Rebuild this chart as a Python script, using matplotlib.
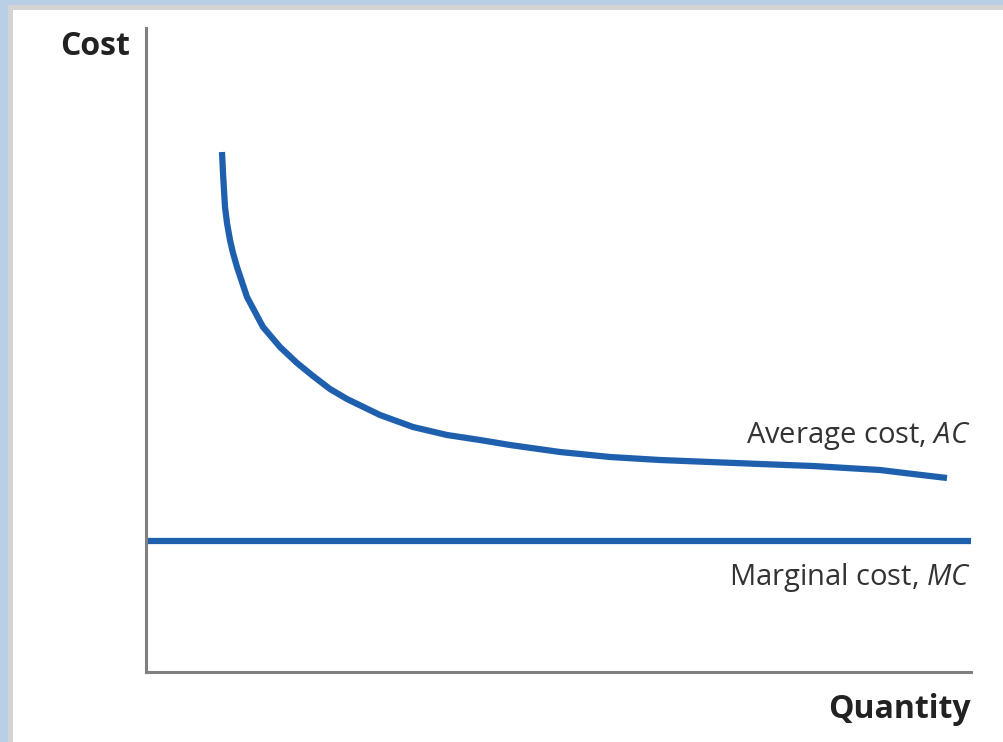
import matplotlib
matplotlib.use("Agg")
import matplotlib.pyplot as plt
from matplotlib import font_manager
from matplotlib.patches import Rectangle

# Data (quantity, cost) in arbitrary units
ac_quantity = [76, 77, 78, 79, 81, 84, 87, 91, 96, 101, 109, 117, 134, 151, 167,
               184, 201, 234, 267, 301, 334, 364, 414, 464, 514, 564, 614, 667,
               734, 767, 801]
ac_cost = [520, 499, 482, 465, 449, 432, 419, 405, 390, 375, 360, 345, 325, 309,
           296, 283, 273, 257, 245, 237, 232, 227, 220, 215, 212, 210, 208, 206,
           202, 198, 194]
mc_quantity = [0, 825]
mc_cost = [131, 131]

x_max = 825
y_max = 644

names = {f.name for f in font_manager.fontManager.ttflist}
fam = 'Liberation Sans Narrow' if 'Liberation Sans Narrow' in names else 'Open Sans'

plt.rcParams['font.family'] = [fam, 'DejaVu Sans']
plt.rcParams['mathtext.fontset'] = 'custom'
plt.rcParams['mathtext.rm'] = fam
plt.rcParams['mathtext.it'] = fam + ':italic'

W, H = 1004, 742
fig = plt.figure(figsize=(W / 100, H / 100), dpi=100)
fig.patch.set_facecolor('#b9cfe6')
# frame
fig.patches.append(Rectangle((8 / W, 0), 1, 1 - 5 / H, transform=fig.transFigure,
                             facecolor='#d4d4d4', edgecolor='none', zorder=-2))
fig.patches.append(Rectangle((13 / W, 0), 1, 1 - 10 / H, transform=fig.transFigure,
                             facecolor='white', edgecolor='none', zorder=-1))

ax = fig.add_axes([146 / W, (H - 672) / H, (971 - 146) / W, (672 - 28) / H])
ax.set_facecolor('none')
ax.set_xlim(0, x_max)
ax.set_ylim(0, y_max)
for s in ['top', 'right']:
    ax.spines[s].set_visible(False)
for s in ['left', 'bottom']:
    ax.spines[s].set_color('#808080')
    ax.spines[s].set_linewidth(2.2)
ax.set_xticks([])
ax.set_yticks([])

blue = '#1e60ad'
ax.plot(ac_quantity, ac_cost, color=blue, lw=4.5, solid_capstyle='butt',
        solid_joinstyle='round')
ax.plot(mc_quantity, mc_cost, color=blue, lw=4.5, solid_capstyle='butt')

ax.text(x_max, 229, 'Average cost, $AC$', ha='right', va='baseline',
        fontsize=21, color='#333333')
ax.text(x_max, 87, 'Marginal cost, $MC$', ha='right', va='baseline',
        fontsize=21, color='#333333')

fig.text(130 / W, 1 - 55 / H, 'Cost', ha='right', va='baseline',
         fontsize=23, fontweight='bold', color='#222222')
fig.text(971 / W, 1 - 718 / H, 'Quantity', ha='right', va='baseline',
         fontsize=23, fontweight='bold', color='#222222')

fig.savefig('out.png', dpi=100, facecolor=fig.get_facecolor())
